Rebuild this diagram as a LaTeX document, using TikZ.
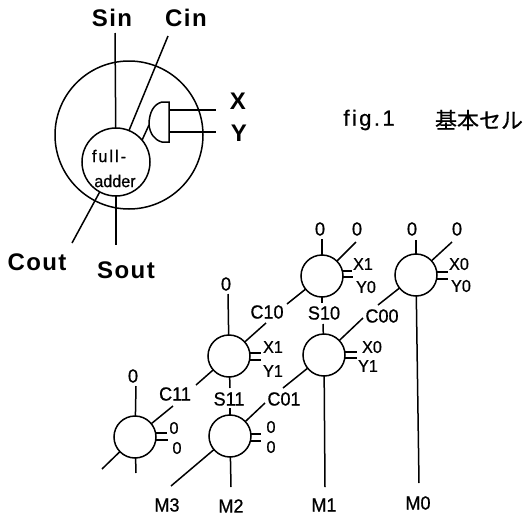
\documentclass[tikz,border=0pt]{standalone}
\usepackage{fontspec}
\setmainfont{Liberation Sans}
\newfontfamily\cjkfont[FakeBold=0.6]{Noto Sans CJK JP}
\newfontfamily\figfont[LetterSpace=11,FakeBold=0.6]{Liberation Sans}
\newfontfamily\wirefont[LetterSpace=6]{Liberation Sans Bold}
\newfontfamily\cellfont[FakeBold=0.7,FakeStretch=0.95]{Liberation Sans}
\tikzset{
    wire/.style={line width=1.5pt},
    cell/.style={circle, draw, line width=1.5pt, minimum size=42pt, inner sep=0pt, outer sep=0pt},
    biglabel/.style={inner sep=0pt, font=\wirefont\fontsize{24}{26}\selectfont},
    midlabel/.style={inner sep=0pt, font=\cellfont\fontsize{19}{21}\selectfont},
    smalllabel/.style={inner sep=0pt, font=\cellfont\fontsize{17}{19}\selectfont}
}
\begin{document}
\begin{tikzpicture}[x=1pt,y=-1pt]
\useasboundingbox (0,0) rectangle (528,517);

% basic cell
\draw[wire] (129,135) circle (74);
\node[cell, minimum size=68pt] (fa) at (116,162) {};
\node[smalllabel] (faup) at (109,156) {f\kern2pt u\kern2pt l\kern2pt l\kern2pt -};
\node[smalllabel] (fadown) at (115,181) {adder};
\foreach \name/\xx/\yy/\txt in {sin/112/18/Sin,cin/186/18/Cin,xlab/238/101/X,ylab/239/133/Y,
    cout/37/262/Cout,sout/126/270/Sout}
\node[biglabel] (\name) at (\xx,\yy) {\txt};

% gate
\coordinate (gateout) at (149,125);
\draw[wire] (169,102) -- (162,102)
    .. controls (154,104) and (149,112) .. (gateout)
    .. controls (150,133) and (154,140) .. (162,142)
    -- (169,142) -- cycle;
\draw[wire] (gateout) -- (fa.40);
\foreach \name/\xx/\yy in {sinend/115/33,cinend/168/36,coutend/72/243,soutend/116/245,
    gatex/169/110,gatey/169/132,xend/216/110,yend/216/132}
\coordinate (\name) at (\xx,\yy);
\foreach \from/\to in {fa/sinend,fa/cinend,fa/coutend,fa/soutend,gatex/xend,gatey/yend}
\draw[wire] (\from) -- (\to);

\node[inner sep=0pt, font=\figfont\fontsize{22}{24}\selectfont] (figno) at (369,120) {fig.1};
\node[inner sep=0pt, font=\cjkfont\fontsize{22}{24}\selectfont] (figname) at (479,120) {基本セル};

% cells
\foreach \name/\xx/\yy in {cen/322/276,cea/416/275,ces/229/356,cem/324/355,
    cel/135/437,cet/230/436}
\node[cell] (\name) at (\xx,\yy) {};

% labels of the array
\foreach \name/\xx/\yy/\txt in {c10/267/312/C10,s10/324/313/S10,c00/382/316/C00,
    c11/175/394/C11,s11/229/399/S11,c01/284/399/C01,
    m3/167/505/M3,m2/231/506/M2,m1/324/505/M1,m0/418/503/M0,
    za/320/229/0,zb/357/229/0,zc/412/229/0,zd/457/229/0,ze/226/284/0,zf/133/376/0}
\node[midlabel] (\name) at (\xx,\yy) {\txt};
\foreach \name/\xx/\yy/\txt in {xa/363/264/X1,ya/366/287/Y0,xb/459/264/X0,yb/461/286/Y0,
    xc/273/347/X1,yc/273/371/Y1,xd/372/347/X0,yd/368/366/Y1,
    xe/174/428/0,ye/177/448/0,xf/271/427/0,yf/271/447/0}
\node[smalllabel] (\name) at (\xx,\yy) {\txt};

% free ends
\foreach \name/\xx/\yy in {enu/322/239,enr/356/242,enl/287/304,
    eau/416/240,ear/452/242,eal/378/305,eab/419/483,
    esu/228/294,esr/266/323,esl/196/385,
    emr/363/318,eml/283/388,emb/325/487,
    elu/136/386,elr/173/406,ell/102/469,elb/136/473,
    etr/265/403,etl/171/486,etb/231/487,
    sna/322/303,sma/323/324,ssa/230/388,sta/230/408,
    na/352/271,nb/353/277,aa/448/272,ab/448/279,
    sa/261/353,sb/261/360,ma/357/352,mb/357/358,
    la/167/433,lb/168/440,ta/261/434,tb/261/441}
\coordinate (\name) at (\xx,\yy);

% wires
\foreach \from/\to in {cen/enu,cen/enr,cen/enl,cen/sna,sma/cem,
    cea/eau,cea/ear,cea/eal,cea/eab,
    ces/esu,ces/esr,ces/esl,ces/ssa,sta/cet,
    cem/emr,cem/eml,cem/emb,
    cel/elu,cel/elr,cel/ell,cel/elb,
    cet/etr,cet/etl,cet/etb}
\draw[wire] (\from) -- (\to);

% stubs to X and Y
\foreach \from/\to in {cen/na,cen/nb,cea/aa,cea/ab,ces/sa,ces/sb,
    cem/ma,cem/mb,cel/la,cel/lb,cet/ta,cet/tb}
\draw[wire] (\to -| \from.east) -- (\to);
\end{tikzpicture}
\end{document}
